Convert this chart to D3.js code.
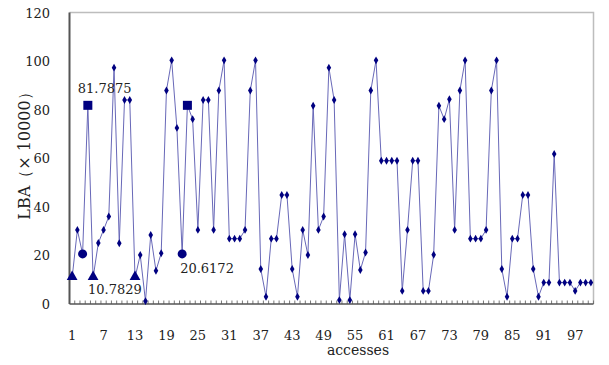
<!DOCTYPE html>
<head>
  <meta charset="UTF-8" />
  <title>LBA accesses</title>
  <style>
    body { margin: 0; background: #fff; }
    svg { display: block; }
    text { font-family: "DejaVu Serif", "Liberation Serif", serif; fill: #222; }
  </style>
</head>
<body>
  <svg width="609" height="365"></svg>
</body>

<script src="https://cdn.jsdelivr.net/npm/d3@7"></script>
<script>
  // categories: access number 1..100
  const accesses = d3.range(1, 101);

  // LBA (x 10000) for each access
  const lba = [
    10.7829, 30.5, 20.6172, 81.7875, 10.7829, 25.1, 30.5, 36.0, 97.3, 25.0,
    84.0, 84.0, 10.7829, 20.2, 1.2, 28.4, 13.7, 20.9, 87.9, 100.3,
    72.5, 20.6172, 81.7875, 76.1, 30.5, 84.0, 84.0, 30.5, 87.9, 100.3,
    26.9, 26.9, 26.9, 30.5, 87.9, 100.3, 14.4, 3.0, 26.9, 26.9,
    44.9, 44.9, 14.4, 3.0, 30.5, 20.2, 81.6, 30.5, 36.0, 97.3,
    84.0, 1.6, 28.7, 1.6, 28.7, 14.0, 21.2, 87.9, 100.3, 59.0,
    59.0, 59.0, 59.0, 5.4, 30.5, 59.0, 59.0, 5.4, 5.4, 20.3,
    81.6, 76.1, 84.3, 30.5, 87.9, 100.3, 26.9, 26.9, 26.9, 30.5,
    87.9, 100.3, 14.4, 3.0, 26.9, 26.9, 44.9, 44.9, 14.4, 3.0,
    8.8, 8.8, 61.8, 8.8, 8.8, 8.8, 5.4, 8.8, 8.8, 8.8
  ];

  const yTicks = [0, 20, 40, 60, 80, 100, 120];
  const xTickLabels = [1, 7, 13, 19, 25, 31, 37, 43, 49, 55, 61, 67, 73, 79, 85, 91, 97];

  // highlighted points (access numbers)
  const triangleAt = [1, 5, 13];
  const circleAt = [3, 22];
  const squareAt = [4, 23];

  // annotations: [access, text]
  const notes = [
    [4, "81.7875"],
    [5, "10.7829"],
    [22, "20.6172"]
  ];

  const svg = d3.select("svg");
  const pLeft = 69.5, pRight = 593.5, pTop = 12.5, pBottom = 304;

  const x = d3.scaleBand().domain(accesses).range([pLeft, pRight]).padding(0);
  const y = d3.scaleLinear().domain([0, 120]).range([pBottom, pTop]);
  const cx = d => x(d) + x.bandwidth() / 2;
  const valueOf = a => lba[a - 1];

  // frame: light top/right, dark left/bottom
  svg.append("path")
    .attr("d", `M${pLeft},${pTop}H${pRight}V${pBottom}`)
    .attr("fill", "none")
    .attr("stroke", "#bdbdbd")
    .attr("stroke-width", 1.5);

  // minor ticks along bottom (category boundaries, pointing up)
  svg.append("g")
    .selectAll("line")
    .data(accesses.concat([101]))
    .join("line")
    .attr("x1", d => d <= 100 ? x(d) : pRight)
    .attr("x2", d => d <= 100 ? x(d) : pRight)
    .attr("y1", pBottom)
    .attr("y2", pBottom - 3.5)
    .attr("stroke", "#777")
    .attr("stroke-width", 1);

  svg.append("line")
    .attr("x1", pLeft).attr("x2", pRight)
    .attr("y1", pBottom).attr("y2", pBottom)
    .attr("stroke", "#555").attr("stroke-width", 1.5);

  svg.append("line")
    .attr("x1", pLeft).attr("x2", pLeft)
    .attr("y1", pTop).attr("y2", pBottom)
    .attr("stroke", "#555").attr("stroke-width", 2);

  // y tick labels
  svg.append("g")
    .selectAll("text")
    .data(yTicks)
    .join("text")
    .attr("x", 50)
    .attr("y", d => y(d) + 5)
    .attr("text-anchor", "end")
    .attr("font-size", 13)
    .text(d => d);

  // x tick labels
  svg.append("g")
    .selectAll("text")
    .data(xTickLabels)
    .join("text")
    .attr("x", d => cx(d))
    .attr("y", 340)
    .attr("text-anchor", "middle")
    .attr("font-size", 13)
    .text(d => d);

  // axis titles
  svg.append("text")
    .attr("transform", "translate(30,152) rotate(-90)")
    .attr("text-anchor", "middle")
    .attr("font-size", 16)
    .text("LBA（× 10000）");

  svg.append("text")
    .attr("x", 358)
    .attr("y", 355)
    .attr("text-anchor", "middle")
    .attr("font-size", 14)
    .text("accesses");

  // the series line
  const line = d3.line().x(d => cx(d)).y(d => y(valueOf(d)));
  svg.append("path")
    .datum(accesses)
    .attr("d", line)
    .attr("fill", "none")
    .attr("stroke", "#6868b8")
    .attr("stroke-width", 1);

  const navy = "#000080";
  const special = new Set([...triangleAt, ...circleAt, ...squareAt]);

  // small diamond markers
  svg.append("g")
    .selectAll("path")
    .data(accesses.filter(a => !special.has(a)))
    .join("path")
    .attr("d", d3.symbol(d3.symbolDiamond, 18))
    .attr("transform", d => `translate(${cx(d)},${y(valueOf(d))})`)
    .attr("fill", navy);

  svg.append("g")
    .selectAll("path")
    .data(triangleAt)
    .join("path")
    .attr("d", d3.symbol(d3.symbolTriangle, 50))
    .attr("transform", d => `translate(${cx(d)},${y(valueOf(d)) - 1})`)
    .attr("fill", navy);

  svg.append("g")
    .selectAll("circle")
    .data(circleAt)
    .join("circle")
    .attr("cx", d => cx(d))
    .attr("cy", d => y(valueOf(d)))
    .attr("r", 4.5)
    .attr("fill", navy);

  svg.append("g")
    .selectAll("rect")
    .data(squareAt)
    .join("rect")
    .attr("x", d => cx(d) - 4.5)
    .attr("y", d => y(valueOf(d)) - 4.5)
    .attr("width", 9)
    .attr("height", 9)
    .attr("fill", navy);

  // value annotations
  const noteOffset = { "81.7875": [-10, -12.5], "10.7829": [-5, 16], "20.6172": [-2, 19] };
  svg.append("g")
    .selectAll("text")
    .data(notes)
    .join("text")
    .attr("x", d => cx(d[0]) + noteOffset[d[1]][0])
    .attr("y", d => y(valueOf(d[0])) + noteOffset[d[1]][1])
    .attr("font-size", 13)
    .text(d => d[1]);
</script>
